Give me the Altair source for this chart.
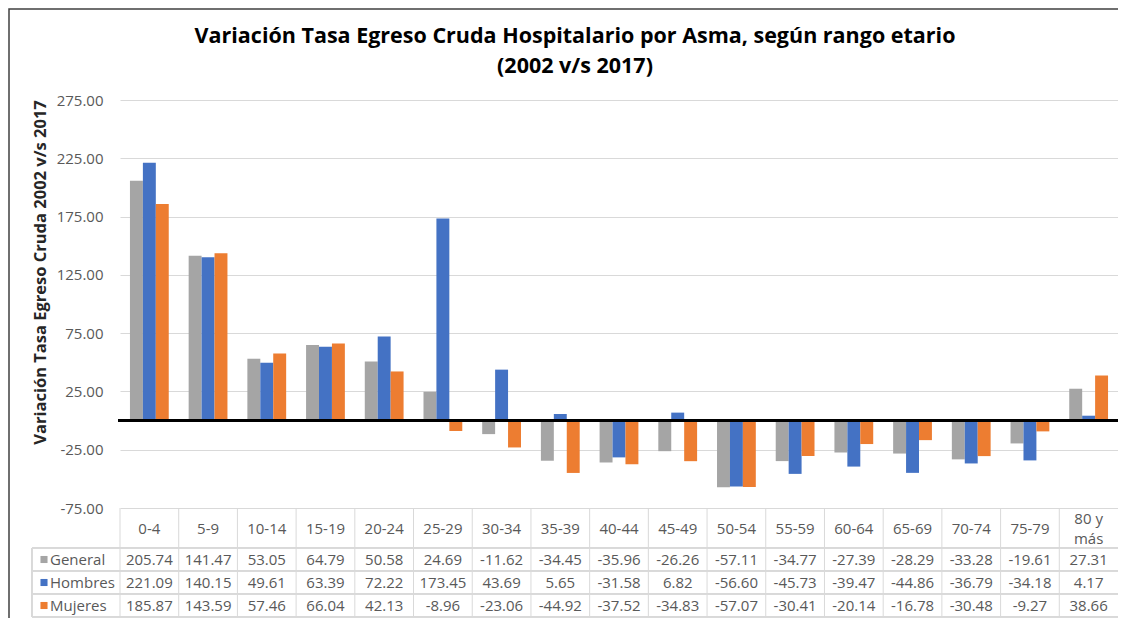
import altair as alt
import pandas as pd

cats = ["0-4", "5-9", "10-14", "15-19", "20-24", "25-29", "30-34", "35-39", "40-44",
        "45-49", "50-54", "55-59", "60-64", "65-69", "70-74", "75-79", "80 y más"]
series = ["General", "Hombres", "Mujeres"]
general = [205.74, 141.47, 53.05, 64.79, 50.58, 24.69, -11.62, -34.45, -35.96, -26.26,
           -57.11, -34.77, -27.39, -28.29, -33.28, -19.61, 27.31]
hombres = [221.09, 140.15, 49.61, 63.39, 72.22, 173.45, 43.69, 5.65, -31.58, 6.82,
           -56.60, -45.73, -39.47, -44.86, -36.79, -34.18, 4.17]
mujeres = [185.87, 143.59, 57.46, 66.04, 42.13, -8.96, -23.06, -44.92, -37.52, -34.83,
           -57.07, -30.41, -20.14, -16.78, -30.48, -9.27, 38.66]
colors = ["#A5A5A5", "#4472C4", "#ED7D31"]
y_ticks = [-75, -25, 25, 75, 125, 175, 225, 275]
title_lines = ["Variación Tasa Egreso Cruda Hospitalario por Asma, según rango etario",
               "(2002 v/s 2017)"]
y_title = "Variación Tasa Egreso Cruda 2002 v/s 2017"

rows = []
for s, vals in zip(series, [general, hombres, mujeres]):
    for c, v in zip(cats, vals):
        rows.append({"cat": c, "series": s, "value": v, "txt": f"{v:.2f}"})
df = pd.DataFrame(rows)
cats_df = pd.DataFrame({"cat": cats})
series_df = pd.DataFrame({"series": series})

W, H = 998, 408
FONT = "Open Sans"
GRID = "#D9D9D9"
TXT = "#595959"
FS = 15
HDR_Y = 429
ROW_LINES = [448, 471, 494, 517]
ROW_Y = [459.5, 482.5, 505.5]
LEFT_X = -88

xscale = alt.Scale(paddingInner=0, paddingOuter=0)


def xenc(bp=None):
    if bp is None:
        return alt.X("cat:N", sort=cats, scale=xscale, axis=None)
    return alt.X("cat:N", sort=cats, scale=xscale, axis=None, bandPosition=bp)


color_enc = alt.Color("series:N", sort=series,
                      scale=alt.Scale(domain=series, range=colors), legend=None)

bars = alt.Chart(df).mark_bar().encode(
    x=xenc(),
    xOffset=alt.XOffset("series:N", sort=series,
                        scale=alt.Scale(domain=series, paddingInner=0, paddingOuter=0.77)),
    y=alt.Y("value:Q",
            scale=alt.Scale(domain=[-75, 275], nice=False, zero=False),
            axis=alt.Axis(values=y_ticks,
                          labelExpr="replace(format(datum.value, '.2f'), '\u2212', '-')",
                          title=y_title, grid=True, gridColor=GRID, gridWidth=1,
                          domain=False, ticks=False, labelPadding=17,
                          labelFontSize=FS, labelColor=TXT, labelFont=FONT,
                          titleFont=FONT, titleFontSize=16.5, titleFontWeight="bold",
                          titleColor="#262626", titleAngle=-90, titleX=-80, titleY=172,
                          titleAlign="center", titleBaseline="middle")),
    color=color_enc,
)

zero = alt.Chart(cats_df).mark_rule(color="black", strokeWidth=2).encode(
    y=alt.datum(0), x=alt.value(-2), x2=alt.value(W))

layers = [bars, zero]

# table vertical lines
layers.append(alt.Chart(cats_df).mark_rule(color=GRID, strokeWidth=1).encode(
    x=xenc(0), y=alt.value(H), y2=alt.value(ROW_LINES[-1])))
layers.append(alt.Chart(cats_df).mark_rule(color=GRID, strokeWidth=1).encode(
    x=alt.value(LEFT_X), y=alt.value(ROW_LINES[0]), y2=alt.value(ROW_LINES[-1])))
for yy in ROW_LINES:
    layers.append(alt.Chart(cats_df).mark_rule(color=GRID, strokeWidth=1).encode(
        x=alt.value(LEFT_X), x2=alt.value(W), y=alt.value(yy)))

# header labels (single-line and wrapped)
hdr_text = dict(font=FONT, fontSize=FS, color=TXT, baseline="middle", align="center")
layers.append(alt.Chart(cats_df).transform_filter(
    "indexof(datum.cat, ' ') < 0").mark_text(**hdr_text).encode(
    x=xenc(0.5), y=alt.value(HDR_Y), text="cat:N"))
layers.append(alt.Chart(cats_df).transform_filter(
    "indexof(datum.cat, ' ') >= 0").transform_calculate(
    hdr="replace(datum.cat, 'y ', 'y|')"
).mark_text(lineBreak="|", lineHeight=19.5, **hdr_text).encode(
    x=xenc(0.5), y=alt.value(HDR_Y - 9.75), text="hdr:N"))

# value rows + legend keys
for s, ry in zip(series, ROW_Y):
    layers.append(alt.Chart(df).transform_filter(alt.datum.series == s).mark_text(
        font=FONT, fontSize=FS, color=TXT, baseline="middle", align="center").encode(
        x=xenc(0.5), y=alt.value(ry), text="txt:N"))
    layers.append(alt.Chart(series_df).transform_filter(alt.datum.series == s).mark_square(
        size=50, opacity=1).encode(x=alt.value(-76), y=alt.value(ry), color=color_enc))
    layers.append(alt.Chart(series_df).transform_filter(alt.datum.series == s).mark_text(
        font=FONT, fontSize=FS, color=TXT, baseline="middle", align="left").encode(
        x=alt.value(-70), y=alt.value(ry), text="series:N"))

# title
for t, ty in zip(title_lines, [-63, -33]):
    layers.append(alt.Chart(pd.DataFrame({"t": [t]})).mark_text(
        font=FONT, fontSize=21.5, fontWeight="bold", color="#000000",
        baseline="middle", align="center").encode(
        x=alt.value(455), y=alt.value(ty), text="t:N"))

# outer border
layers.append(alt.Chart(cats_df.head(1)).mark_rect(
    fillOpacity=0, stroke="#404040", strokeWidth=1.5).encode(
    x=alt.value(-111), x2=alt.value(W + 30), y=alt.value(-91), y2=alt.value(H + 160)))

chart = alt.layer(*layers).properties(
    width=W, height=H,
    padding={"left": 112, "top": 92, "right": 0, "bottom": 110},
    autosize=alt.AutoSizeParams(type="none"),
    background="white",
).configure_view(stroke="transparent")

chart.save("out.html", embed_options={"renderer": "svg", "actions": False})
